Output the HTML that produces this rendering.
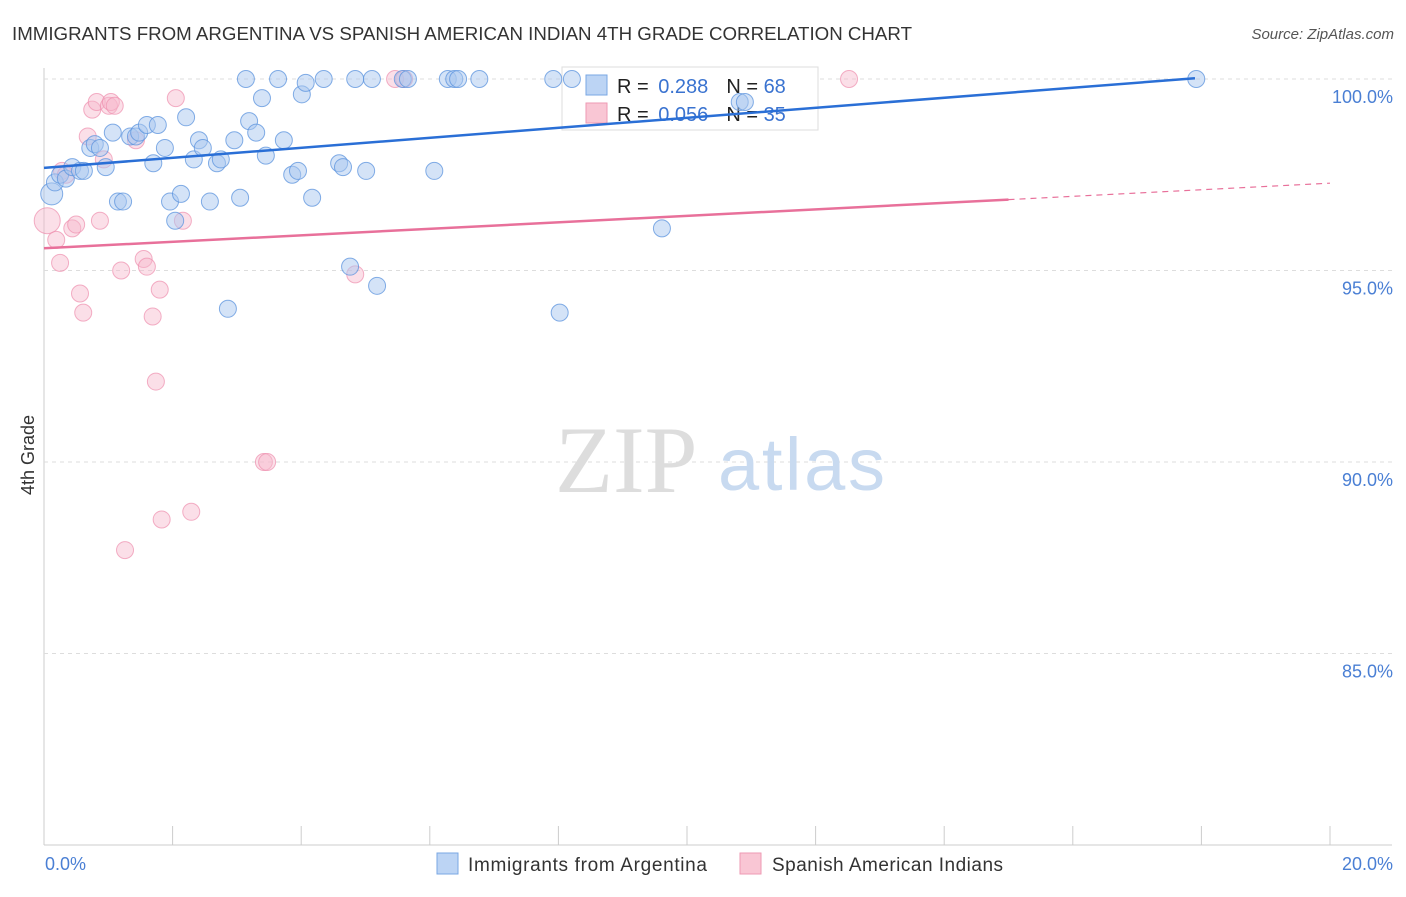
<!DOCTYPE html>
<html><head><meta charset="utf-8"><style>
body{margin:0;background:#fff;font-family:"Liberation Sans",sans-serif}
svg text{font-family:"Liberation Sans",sans-serif}
</style></head><body>
<svg id="chart" width="1406" height="892" xmlns="http://www.w3.org/2000/svg">
<text x="12" y="40" font-size="18" fill="#333" textLength="900" lengthAdjust="spacingAndGlyphs">IMMIGRANTS FROM ARGENTINA VS SPANISH AMERICAN INDIAN 4TH GRADE CORRELATION CHART</text>
<text x="1394" y="39" font-size="15" fill="#555" text-anchor="end" font-style="italic">Source: ZipAtlas.com</text>
<text x="0" y="0" transform="translate(34,455) rotate(-90)" font-size="18" fill="#333" text-anchor="middle">4th Grade</text>
<g id="grid"></g>
<text x="555" y="492" font-size="95" fill="#ddd" style="font-family:'Liberation Serif',serif">ZIP</text>
<text x="718" y="490" font-size="74" fill="#c8daf0" textLength="167">atlas</text>
<g>
<rect x="562" y="67" width="256" height="63" fill="#fff" stroke="#ddd"/>
<rect x="586" y="75" width="21" height="20" fill="#bcd4f4" stroke="#7aa7e3"/>
<rect x="586" y="103" width="21" height="20" fill="#f9c6d4" stroke="#ee9ab3"/>
<text x="617" y="93" font-size="20" fill="#222">R = <tspan fill="#3a73d0" dx="4">0.288</tspan><tspan fill="#222" dx="18">N = </tspan><tspan fill="#3a73d0">68</tspan></text>
<text x="617" y="121" font-size="20" fill="#222">R = <tspan fill="#3a73d0" dx="4">0.056</tspan><tspan fill="#222" dx="18">N = </tspan><tspan fill="#3a73d0">35</tspan></text>
</g>
<g id="pts"></g>
<g id="lines"></g>
<g>
<rect x="437" y="853" width="21" height="21" fill="#bcd4f4" stroke="#7aa7e3"/>
<text x="468" y="871" font-size="19" fill="#333" textLength="239">Immigrants from Argentina</text>
<rect x="740" y="853" width="21" height="21" fill="#f9c6d4" stroke="#ee9ab3"/>
<text x="772" y="871" font-size="19" fill="#333" textLength="231">Spanish American Indians</text>
</g>
</svg>
<script>
const yTicks=[100,95,90,85];
const xTickLabels=["0.0%","20.0%"];
const blueX=[0.12,0.17,0.25,0.34,0.44,0.56,0.62,0.72,0.79,0.87,0.96,1.07,1.15,1.23,1.34,1.43,1.48,1.6,1.7,1.77,1.88,1.96,2.04,2.13,2.21,2.33,2.41,2.47,2.58,2.69,2.75,2.86,2.96,3.05,3.14,3.19,3.3,3.39,3.45,3.64,3.73,3.86,3.95,4.01,4.07,4.17,4.35,4.59,4.65,4.76,4.84,5.01,5.1,5.18,5.58,5.66,6.07,6.28,6.38,6.44,6.77,7.92,8.02,8.21,9.61,10.82,10.9,17.92];
const blueY=[97.0,97.3,97.5,97.4,97.7,97.6,97.6,98.2,98.3,98.2,97.7,98.6,96.8,96.8,98.5,98.5,98.6,98.8,97.8,98.8,98.2,96.8,96.3,97.0,99.0,97.9,98.4,98.2,96.8,97.8,97.9,94.0,98.4,96.9,100,98.9,98.6,99.5,98.0,100,98.4,97.5,97.6,99.6,99.9,96.9,100,97.8,97.7,95.1,100,97.6,100,94.6,100,100,97.6,100,100,100,100,100,93.9,100,96.1,99.4,99.4,100];
const pinkX=[0.05,0.19,0.25,0.28,0.34,0.44,0.5,0.56,0.61,0.68,0.75,0.82,0.87,0.93,1.01,1.04,1.1,1.2,1.26,1.43,1.55,1.6,1.69,1.74,1.8,1.83,2.05,2.16,2.29,3.42,3.47,4.84,5.46,5.6,12.52];
const pinkY=[96.3,95.8,95.2,97.6,97.5,96.1,96.2,94.4,93.9,98.5,99.2,99.4,96.3,97.9,99.3,99.4,99.3,95.0,87.7,98.4,95.3,95.1,93.8,92.1,94.5,88.5,99.5,96.3,88.7,90.0,90.0,94.9,100,100,100];
const bigBlue=[0], bigPink=[0];
const blueTrend=[[0,97.68],[17.9,100.02]];
const pinkTrend=[[0,95.58],[15,96.85],[20,97.28]];
const ns="http://www.w3.org/2000/svg";
const X=v=>44+v*64.3, Y=v=>79+(100-v)*38.3;
function el(t,a,p){const e=document.createElementNS(ns,t);for(const k in a)e.setAttribute(k,a[k]);p.appendChild(e);return e;}
const grid=document.getElementById('grid');
const ax=el('line',{x1:44,y1:68,x2:44,y2:845,stroke:'#ccc'},grid);


const bx=el('line',{x1:44,y1:845,x2:1392,y2:845,stroke:'#ccc'},grid);


yTicks.forEach(v=>{
 const g=el('line',{x1:44,x2:1392,y1:Y(v),y2:Y(v),stroke:'#ddd','stroke-dasharray':'4,4'},grid);
 
 
 const t=el('text',{x:1393,y:Y(v)+24,'font-size':18,fill:'#4a7fd4','text-anchor':'end'},grid);
 t.textContent=v.toFixed(1)+'%';
 
 
});
for(let i=0;i<=20;i+=2){
 const tk=el('line',{x1:X(i),x2:X(i),y1:826,y2:845,stroke:'#ccc'},grid);
 
 
}
xTickLabels.forEach((s,i)=>{
 const t=el('text',{x:i?1393:45,y:870,'font-size':18,fill:'#4a7fd4','text-anchor':i?'end':'start'},grid);
 t.textContent=s;
 
 
});
const pts=document.getElementById('pts');
pinkX.forEach((x,i)=>{
 const c=el('circle',{cx:X(x),cy:Y(pinkY[i]),r:bigPink.includes(i)?13:8.5,fill:'#f7b8cb','fill-opacity':0.45,stroke:'#ee8fae','stroke-opacity':0.7},pts);
 
 
});
blueX.forEach((x,i)=>{
 const c=el('circle',{cx:X(x),cy:Y(blueY[i]),r:bigBlue.includes(i)?11:8.5,fill:'#a9c8f0','fill-opacity':0.5,stroke:'#5b93dd','stroke-opacity':0.75},pts);
 
 
});
const L=document.getElementById('lines');
const bl=el('line',{x1:X(blueTrend[0][0]),y1:Y(blueTrend[0][1]),x2:X(blueTrend[1][0]),y2:Y(blueTrend[1][1]),stroke:'#2a6fd6','stroke-width':2.5},L);


const pl=el('line',{x1:X(pinkTrend[0][0]),y1:Y(pinkTrend[0][1]),x2:X(pinkTrend[1][0]),y2:Y(pinkTrend[1][1]),stroke:'#e8709a','stroke-width':2.5},L);


const pd=el('line',{x1:X(pinkTrend[1][0]),y1:Y(pinkTrend[1][1]),x2:X(pinkTrend[2][0]),y2:Y(pinkTrend[2][1]),stroke:'#e8709a','stroke-width':1.2,'stroke-dasharray':'6,5'},L);


</script>
</body></html>
